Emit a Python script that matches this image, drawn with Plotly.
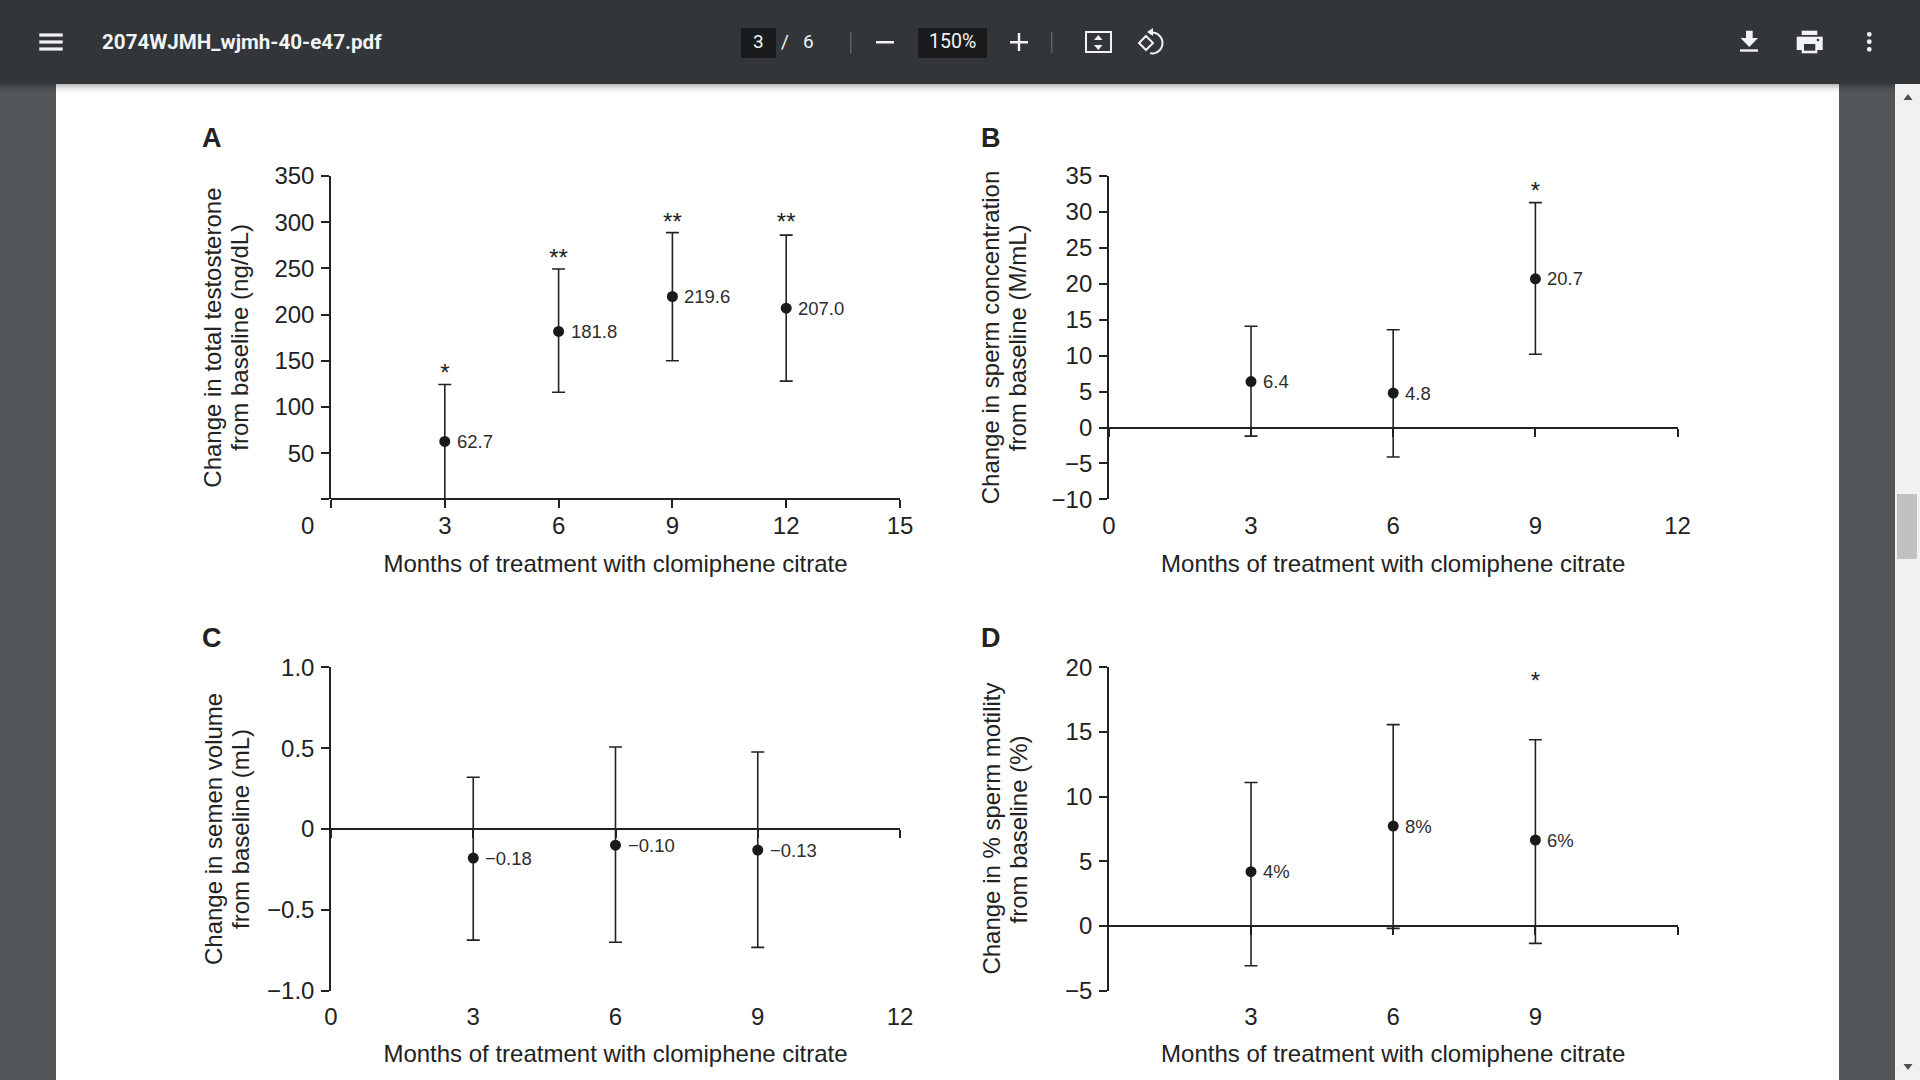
import math
import plotly.graph_objects as go

# ---------- data ----------
months_a = [3, 6, 9, 12]
means_a = [62.7, 181.8, 219.6, 207.0]
upper_a = [124.3, 249.4, 288.7, 286.0]
lower_a = [0.0, 116.0, 150.0, 128.0]
labels_a = ["62.7", "181.8", "219.6", "207.0"]
stars_a = ["*", "**", "**", "**"]
stars_y_a = [135, 259.5, 298.5, 298]
yticks_a = [0, 50, 100, 150, 200, 250, 300, 350]
yticktext_a = ["", "50", "100", "150", "200", "250", "300", "350"]
xticks_a = [0, 3, 6, 9, 12, 15]
xticktext_a = ["", "3", "6", "9", "12", "15"]

months_b = [3, 6, 9]
means_b = [6.4, 4.8, 20.7]
upper_b = [14.1, 13.6, 31.3]
lower_b = [-1.2, -4.1, 10.2]
labels_b = ["6.4", "4.8", "20.7"]
stars_b = ["", "", "*"]
stars_y_b = [None, None, 32.6]
yticks_b = [-10, -5, 0, 5, 10, 15, 20, 25, 30, 35]
yticktext_b = ["−10", "−5", "0", "5", "10", "15", "20", "25", "30", "35"]
xticks_b = [0, 3, 6, 9, 12]
xticktext_b = ["0", "3", "6", "9", "12"]

months_c = [3, 6, 9]
means_c = [-0.18, -0.10, -0.13]
upper_c = [0.32, 0.507, 0.476]
lower_c = [-0.687, -0.70, -0.732]
labels_c = ["−0.18", "−0.10", "−0.13"]
yticks_c = [-1.0, -0.5, 0, 0.5, 1.0]
yticktext_c = ["−1.0", "−0.5", "0", "0.5", "1.0"]
xticks_c = [0, 3, 6, 9, 12]
xticktext_c = ["0", "3", "6", "9", "12"]

months_d = [3, 6, 9]
means_d = [4.2, 7.73, 6.65]
upper_d = [11.1, 15.57, 14.4]
lower_d = [-3.07, -0.18, -1.34]
labels_d = ["4%", "8%", "6%"]
stars_d = ["", "", "*"]
stars_y_d = [None, None, 18.75]
yticks_d = [-5, 0, 5, 10, 15, 20]
yticktext_d = ["−5", "0", "5", "10", "15", "20"]
xticks_d = [3, 6, 9, 12]
xticktext_d = ["3", "6", "9", ""]

xtitle = "Months of treatment with clomiphene citrate"
panels = [
    dict(letter="A", x=months_a, m=means_a, u=upper_a, l=lower_a, t=labels_a, s=stars_a, sy=stars_y_a,
         yr=[0, 350], yv=yticks_a, yt=yticktext_a, xr=[0, 15], xv=xticks_a, xt=xticktext_a,
         ytitle=["Change in total testosterone", "from baseline (ng/dL)"], col=0, row=0),
    dict(letter="B", x=months_b, m=means_b, u=upper_b, l=lower_b, t=labels_b, s=stars_b, sy=stars_y_b,
         yr=[-10, 35], yv=yticks_b, yt=yticktext_b, xr=[0, 12], xv=xticks_b, xt=xticktext_b,
         ytitle=["Change in sperm concentration", "from baseline (M/mL)"], col=1, row=0),
    dict(letter="C", x=months_c, m=means_c, u=upper_c, l=lower_c, t=labels_c, s=None, sy=None,
         yr=[-1, 1], yv=yticks_c, yt=yticktext_c, xr=[0, 12], xv=xticks_c, xt=xticktext_c,
         ytitle=["Change in semen volume", "from baseline (mL)"], col=0, row=1),
    dict(letter="D", x=months_d, m=means_d, u=upper_d, l=lower_d, t=labels_d, s=stars_d, sy=stars_y_d,
         yr=[-5, 20], yv=yticks_d, yt=yticktext_d, xr=[0, 12], xv=xticks_d, xt=xticktext_d,
         ytitle=["Change in % sperm motility", "from baseline (%)"], col=1, row=1),
]

# ---------- layout constants ----------
W, H = 1920, 1080
INK = "#222222"
LABEL_INK = "#2e2e2e"
FONT = "Liberation Sans"
COLS = [(331.0, 900.0), (1108.8, 1677.6)]
ROWS = [(176.0, 499.4), (667.3, 990.7)]
LETTER_X = [212, 991]
LETTER_Y = [138, 638]
YTITLE_X = [(213, 240), (990.6, 1017.5)]
XLABEL_STANDOFF = [10, 9]

def px(x):
    return x / W
def py(y):
    return 1 - y / H

fig = go.Figure()
layout = dict(
    template="none",
    width=W, height=H, margin=dict(l=0, r=0, t=0, b=0, pad=0), autosize=False,
    paper_bgcolor="#525659", plot_bgcolor="rgba(0,0,0,0)", showlegend=False,
    font=dict(family=FONT, color=INK, size=24),
)
annotations = []

for i, p in enumerate(panels):
    n = i + 1
    ov = i + 5
    x0, x1 = COLS[p["col"]]
    y0, y1 = ROWS[p["row"]]
    dom_y = [py(y1), py(y0)]
    ymin, ymax = p["yr"]
    zero_pos = dom_y[0] + (0 - ymin) / (ymax - ymin) * (dom_y[1] - dom_y[0])

    layout[f"xaxis{n}"] = dict(
        domain=[px(x0), px(x1)], range=p["xr"], anchor=f"y{n}", tickmode="array",
        tickvals=p["xv"], ticktext=p["xt"], ticks="", showline=False, automargin=False,
        showgrid=False, zeroline=False, ticklabelstandoff=XLABEL_STANDOFF[p["row"]],
        tickfont=dict(family=FONT, size=24, color=INK),
        title=dict(text=xtitle, standoff=16, font=dict(family=FONT, size=24, color=INK)),
    )
    layout[f"xaxis{ov}"] = dict(
        domain=[px(x0), px(x1)], range=p["xr"], overlaying=f"x{n}", anchor="free", position=zero_pos,
        tickmode="array", tickvals=p["xv"], showticklabels=False, ticks="outside", ticklen=8,
        tickwidth=1.5, tickcolor=INK, showline=True, linewidth=2, linecolor=INK, automargin=False,
        showgrid=False, zeroline=False,
    )
    layout[f"yaxis{n}"] = dict(
        domain=dom_y, range=p["yr"], anchor=f"x{n}", tickmode="array", tickvals=p["yv"],
        ticktext=p["yt"], ticks="outside", ticklen=8, tickwidth=1.5, tickcolor=INK,
        showline=True, linewidth=1.5, linecolor=INK, showgrid=False, zeroline=False, automargin=False,
        ticklabelstandoff=2, tickfont=dict(family=FONT, size=24, color=INK),
    )

    fig.add_trace(go.Scatter(
        x=p["x"], y=p["m"], mode="markers", xaxis=f"x{ov}", yaxis=f"y{n}", cliponaxis=False,
        marker=dict(size=11, color="#1a1a1a"),
        error_y=dict(type="data", symmetric=False,
                     array=[u - m for u, m in zip(p["u"], p["m"])],
                     arrayminus=[m - l for l, m in zip(p["l"], p["m"])],
                     color=INK, thickness=1.6, width=6.5),
    ))
    if p["s"]:
        fig.add_trace(go.Scatter(
            x=p["x"], y=p["sy"], mode="text", xaxis=f"x{n}", yaxis=f"y{n}", cliponaxis=False,
            text=p["s"], textposition="middle center", textfont=dict(family=FONT, size=24, color=INK),
        ))
    for xv, yv, txt in zip(p["x"], p["m"], p["t"]):
        annotations.append(dict(
            text=txt, xref=f"x{n}", yref=f"y{n}", x=xv, y=yv, xanchor="left", yanchor="middle",
            xshift=10, yshift=0, showarrow=False, font=dict(family=FONT, size=18.5, color=LABEL_INK),
        ))
    for tx, line in zip(YTITLE_X[p["col"]], p["ytitle"]):
        annotations.append(dict(
            text=line, xref="paper", yref="paper", x=px(tx), y=(dom_y[0] + dom_y[1]) / 2, textangle=-90,
            xanchor="center", yanchor="middle", showarrow=False, font=dict(family=FONT, size=24, color=INK),
        ))
    annotations.append(dict(
        text=f"<b>{p['letter']}</b>", xref="paper", yref="paper", x=px(LETTER_X[p["col"]]),
        y=py(LETTER_Y[p["row"]]), xanchor="center", yanchor="middle", showarrow=False,
        font=dict(family=FONT, size=27, color=INK),
    ))

# Panel A's zero label sits left of the axis in the reference
annotations.append(dict(
    text="0", xref="x1", yref="paper", x=0, y=py(ROWS[0][1] + 26.5), xanchor="center", yanchor="middle",
    xshift=-23.5, showarrow=False, font=dict(family=FONT, size=24, color=INK),
))

# ---------- viewer chrome ----------
shapes = []
CH = "#f1f3f4"
def rect(a, b, c, d, color, layer="below"):
    shapes.append(dict(type="rect", xref="paper", yref="paper", x0=px(a), x1=px(c), y0=py(b), y1=py(d),
                       fillcolor=color, line=dict(width=0), layer=layer))
def poly(points, color, fill=True, close=True, w=2):
    path = "M " + " L ".join(f"{px(x):.5f} {py(y):.5f}" for x, y in points) + (" Z" if close else "")
    shapes.append(dict(type="path", xref="paper", yref="paper", path=path,
                       fillcolor=color if fill else "rgba(0,0,0,0)",
                       line=dict(width=0 if fill else w, color=color), layer="above"))
def dot(cx, cy, r, color):
    shapes.append(dict(type="circle", xref="paper", yref="paper", x0=px(cx - r), x1=px(cx + r),
                       y0=py(cy - r), y1=py(cy + r), fillcolor=color, line=dict(width=0), layer="above"))

rect(56, 84, 1839, 1080, "#ffffff")
rect(1895, 84, 1920, 1080, "#f1f1f1")
rect(1897, 494, 1917, 559, "#c1c1c1")
for k, c in enumerate(["rgba(0,0,0,0.24)", "rgba(0,0,0,0.15)", "rgba(0,0,0,0.08)", "rgba(0,0,0,0.04)"]):
    rect(0, 84 + k * 2, 1895, 86 + k * 2, c)
rect(0, 0, 1920, 84, "#323639")
rect(741, 28, 776, 58, "#191b1c")
rect(918, 28, 987, 58, "#191b1c")
rect(850, 32, 851.5, 53, "#5f6368")
rect(1051, 32, 1052.5, 53, "#5f6368")
# hamburger
for yy in (35, 42, 49):
    rect(39.3, yy - 1.6, 62.7, yy + 1.6, CH)
# minus and plus
rect(876, 41, 894, 43.5, CH)
rect(1010, 41, 1028, 43.5, CH)
rect(1017.8, 33, 1020.2, 51, CH)
# fit to page
poly([(1086, 32), (1111, 32), (1111, 52), (1086, 52)], CH, fill=False)
poly([(1098.3, 35), (1102.5, 40), (1094, 40)], CH)
poly([(1098.3, 50), (1102.5, 45), (1094, 45)], CH)
# rotate
poly([(1146, 36), (1153, 43), (1146, 50), (1139, 43)], CH, fill=False)
arc = [(1152 + 10.5 * math.cos(math.radians(a)), 43 + 10.5 * math.sin(math.radians(a)))
       for a in range(-95, 115, 15)]
poly(arc, CH, fill=False, close=False)
poly([(1147, 32), (1153, 28), (1153, 36)], CH)
# download
poly([(1746, 30.7), (1752.7, 30.7), (1752.7, 38), (1758, 38), (1749.3, 47), (1740.5, 38), (1746, 38)], CH)
rect(1740, 49.3, 1758, 51.7, CH, layer="above")
# print
rect(1801.7, 30.7, 1817.3, 35, CH, layer="above")
rect(1796.7, 36.7, 1822.7, 50, CH, layer="above")
rect(1801.7, 44, 1817.3, 53.3, CH, layer="above")
rect(1804, 44, 1815.3, 50.7, "#323639", layer="above")
dot(1818, 40, 1.3, "#323639")
# dots
for yy in (34.3, 41.7, 49.3):
    dot(1869.3, yy, 2.4, CH)
# scrollbar arrows
poly([(1903.5, 100), (1908, 94), (1912.5, 100)], "#505050")
poly([(1903.5, 1064), (1908, 1070), (1912.5, 1064)], "#505050")

def chrome_text(text, x, y, size, anchor="center"):
    annotations.append(dict(text=text, xref="paper", yref="paper", x=px(x), y=py(y), xanchor=anchor,
                            yanchor="middle", showarrow=False,
                            font=dict(family="Roboto", size=size, color=CH)))
chrome_text("<b>2074WJMH_wjmh-40-e47.pdf</b>", 100, 42, 20.6, "left")
chrome_text("3", 758.5, 42, 19)
chrome_text("/", 785, 41, 19)
chrome_text("6", 808, 41, 19)
chrome_text("150%", 952, 42, 19.5)

layout["shapes"] = shapes
layout["annotations"] = annotations
fig.update_layout(**layout)
fig.write_html("out.html", config=dict(displayModeBar=False),
               post_script="document.body.style.margin='0';document.body.style.overflow='hidden';")
